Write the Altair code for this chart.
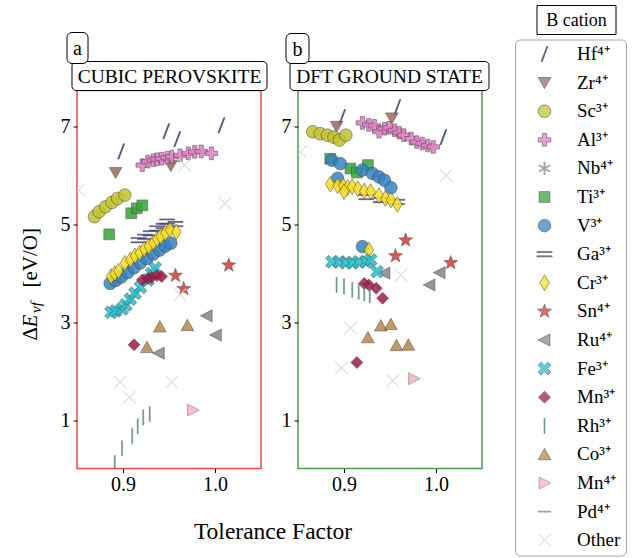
import altair as alt
import pandas as pd

# B-cation categories, in legend / drawing order
CATIONS = ["Hf⁴⁺", "Zr⁴⁺", "Sc³⁺", "Al³⁺", "Nb⁴⁺", "Ti³⁺", "V³⁺", "Ga³⁺", "Cr³⁺",
           "Sn⁴⁺", "Ru⁴⁺", "Fe³⁺", "Mn³⁺", "Rh³⁺", "Co³⁺", "Mn⁴⁺", "Pd⁴⁺", "Other"]

# ---- cubic perovskite: (tolerance factor, vacancy formation energy) ----
CUBIC_HF = [(0.898, 6.49), (0.947, 6.90), (0.959, 6.74), (1.007, 7.02)]
CUBIC_ZR = [(0.892, 6.06), (0.952, 6.20)]
CUBIC_SC = [(0.869, 5.16), (0.874, 5.26), (0.881, 5.36), (0.888, 5.45), (0.894, 5.53), (0.902, 5.60)]
CUBIC_AL = [(0.921, 6.21), (0.927, 6.28), (0.933, 6.31), (0.937, 6.33), (0.942, 6.34), (0.948, 6.36),
            (0.953, 6.38), (0.962, 6.41), (0.971, 6.45), (0.978, 6.48), (0.985, 6.49), (0.996, 6.45)]
CUBIC_NB = []
CUBIC_TI = [(0.885, 4.80), (0.909, 5.23), (0.915, 5.33), (0.921, 5.39)]
CUBIC_V = [(0.886, 3.80), (0.892, 3.86), (0.898, 3.93), (0.905, 4.02), (0.912, 4.12), (0.919, 4.22),
           (0.926, 4.31), (0.933, 4.40), (0.940, 4.48), (0.946, 4.56), (0.952, 4.62)]
CUBIC_GA = [(0.917, 4.68), (0.924, 4.75), (0.930, 4.82), (0.937, 4.92), (0.944, 4.97), (0.948, 5.06), (0.957, 5.01)]
CUBIC_CR = [(0.887, 3.94), (0.891, 4.00), (0.895, 4.05), (0.902, 4.21), (0.908, 4.28), (0.913, 4.36),
            (0.918, 4.42), (0.923, 4.50), (0.928, 4.55), (0.933, 4.63), (0.937, 4.70), (0.941, 4.76),
            (0.946, 4.83), (0.951, 4.89), (0.958, 4.85)]
CUBIC_SN = [(0.957, 3.96), (0.966, 3.69), (1.015, 4.17)]
CUBIC_RU = [(0.991, 3.14), (1.001, 2.75), (0.939, 2.38)]
CUBIC_FE = [(0.887, 3.21), (0.892, 3.24), (0.899, 3.28), (0.903, 3.36), (0.908, 3.48), (0.913, 3.60),
            (0.919, 3.72), (0.927, 3.87), (0.931, 4.00), (0.935, 4.11)]
CUBIC_MN3 = [(0.921, 3.87), (0.927, 3.90), (0.931, 3.92), (0.937, 3.96), (0.942, 3.94), (0.912, 2.55)]
CUBIC_RH = [(0.891, 0.14), (0.899, 0.44), (0.910, 0.69), (0.916, 0.89), (0.922, 1.07), (0.929, 1.14)]
CUBIC_CO = [(0.940, 2.92), (0.970, 2.95), (0.926, 2.50)]
CUBIC_MN4 = [(0.976, 1.22)]
CUBIC_PD = []
CUBIC_OTHER = [(0.897, 1.79), (0.907, 1.48), (0.953, 1.79), (0.962, 3.57), (0.852, 5.70),
               (0.967, 6.21), (1.011, 5.43)]

# ---- DFT ground state ----
GROUND_HF = [(0.898, 7.19), (0.958, 7.39), (1.008, 6.78)]
GROUND_ZR = [(0.892, 7.00), (0.952, 7.17)]
GROUND_SC = [(0.866, 6.89), (0.874, 6.85), (0.882, 6.82), (0.889, 6.78), (0.895, 6.72), (0.902, 6.82)]
GROUND_AL = [(0.920, 7.07), (0.927, 7.03), (0.933, 7.01), (0.938, 6.89), (0.944, 6.95), (0.949, 6.97),
             (0.955, 6.92), (0.960, 6.87), (0.965, 6.82), (0.973, 6.75), (0.979, 6.68), (0.985, 6.65),
             (0.991, 6.61), (0.997, 6.58)]
GROUND_NB = []
GROUND_TI = [(0.885, 6.34), (0.907, 6.14), (0.914, 6.06), (0.926, 6.21)]
GROUND_V = [(0.887, 6.31), (0.896, 6.24), (0.893, 5.94), (0.920, 6.11), (0.931, 6.04), (0.938, 5.97),
            (0.944, 5.90), (0.951, 5.75), (0.920, 4.55)]
GROUND_GA = [(0.924, 5.56), (0.940, 5.50), (0.958, 5.46)]
GROUND_CR = [(0.885, 5.82), (0.893, 5.79), (0.899, 5.79), (0.904, 5.75), (0.909, 5.77), (0.915, 5.73),
             (0.922, 5.68), (0.929, 5.67), (0.938, 5.59), (0.945, 5.53), (0.951, 5.50), (0.958, 5.41),
             (0.900, 5.67), (0.927, 4.48)]
GROUND_SN = [(0.967, 4.68), (0.956, 4.36), (1.016, 4.22)]
GROUND_RU = [(0.944, 4.01), (1.004, 4.02), (0.993, 3.77)]
GROUND_FE = [(0.887, 4.24), (0.895, 4.24), (0.902, 4.22), (0.909, 4.22), (0.916, 4.24), (0.924, 4.24),
             (0.929, 4.28), (0.936, 4.04)]
GROUND_MN3 = [(0.922, 3.80), (0.927, 3.77), (0.935, 3.70), (0.942, 3.50), (0.914, 2.19)]
GROUND_RH = [(0.892, 3.77), (0.900, 3.74), (0.909, 3.67), (0.916, 3.63), (0.922, 3.60), (0.928, 3.56)]
GROUND_CO = [(0.940, 2.94), (0.951, 2.97), (0.926, 2.70), (0.957, 2.54), (0.970, 2.55)]
GROUND_MN4 = [(0.976, 1.86)]
GROUND_PD = []
GROUND_OTHER = [(0.962, 3.97), (0.907, 2.89), (0.897, 2.08), (0.953, 1.82), (0.853, 6.48), (1.011, 6.00)]

CUBIC_SERIES = [CUBIC_HF, CUBIC_ZR, CUBIC_SC, CUBIC_AL, CUBIC_NB, CUBIC_TI, CUBIC_V, CUBIC_GA, CUBIC_CR,
                CUBIC_SN, CUBIC_RU, CUBIC_FE, CUBIC_MN3, CUBIC_RH, CUBIC_CO, CUBIC_MN4, CUBIC_PD, CUBIC_OTHER]
GROUND_SERIES = [GROUND_HF, GROUND_ZR, GROUND_SC, GROUND_AL, GROUND_NB, GROUND_TI, GROUND_V, GROUND_GA,
                 GROUND_CR, GROUND_SN, GROUND_RU, GROUND_FE, GROUND_MN3, GROUND_RH, GROUND_CO, GROUND_MN4,
                 GROUND_PD, GROUND_OTHER]

PANEL_TAGS = ["a", "b"]
PANEL_TITLES = ["CUBIC PEROVSKITE", "DFT GROUND STATE"]
X_TICKS = [0.9, 1.0]
Y_TICKS = [1, 3, 5, 7]

# ---- marker styling ----
FILLS = ["#2d2d66", "#9c675e", "#c3c22c", "#e57dc6", "#8c8c8c", "#37a537", "#3584c2", "#3b3e72",
         "#f7e018", "#dc3535", "#868686", "#22c0cd", "#a21946", "#52806c", "#b98746", "#ffb0ba",
         "#5b9c5b", "#d9d9d9"]
EDGE = "#404040"
EDGES = ["#2d2d66", EDGE, EDGE, EDGE, "#8c8c8c", EDGE, EDGE, "#3b3e72", EDGE, EDGE, EDGE, EDGE, EDGE,
         "#52806c", EDGE, "#707070", "#5b9c5b", "#d9d9d9"]

SLASH = "M-0.55,1.2L0.35,-1.2L0.55,-1.2L-0.35,1.2Z"
TRI_DOWN = "M-1,-0.8L1,-0.8L0,0.95Z"
PLUS = "M-0.33,-1H0.33V-0.33H1V0.33H0.33V1H-0.33V0.33H-1V-0.33H-0.33Z"
ASTERISK = ("M-0.1,-1H0.1V1H-0.1Z M0.816,0.587L0.916,0.413L-0.816,-0.587L-0.916,-0.413Z "
            "M-0.916,0.413L-0.816,0.587L0.916,-0.413L0.816,-0.587Z")
SQUARE = "M-0.85,-0.85H0.85V0.85H-0.85Z"
EQUALS = "M-1.2,-0.42H1.2V-0.26H-1.2Z M-1.2,0.26H1.2V0.42H-1.2Z"
THIN_DIAMOND = "M0,-1.25L0.75,0L0,1.25L-0.75,0Z"
STAR = ("M0,-1.15L0.276,-0.38L1.094,-0.355L0.447,0.145L0.676,0.93L0,0.47L-0.676,0.93"
        "L-0.447,0.145L-1.094,-0.355L-0.276,-0.38Z")
TRI_LEFT = "M-1,0L0.85,-0.95L0.85,0.95Z"
BIG_X = ("M0.545,-1.011L1.011,-0.545L0.467,0L1.011,0.545L0.545,1.011L0,0.467L-0.545,1.011"
         "L-1.011,0.545L-0.467,0L-1.011,-0.545L-0.545,-1.011L0,-0.467Z")
DIAMOND = "M0,-0.95L0.95,0L0,0.95L-0.95,0Z"
VBAR = "M-0.08,-1.2H0.08V1.2H-0.08Z"
TRI_UP = "M0,-0.95L1,0.85L-1,0.85Z"
TRI_RIGHT = "M1,0L-0.85,-0.95L-0.85,0.95Z"
HBAR = "M-1,-0.08H1V0.08H-1Z"
THIN_X = "M-1,-0.93L-0.93,-1L1,0.93L0.93,1Z M0.93,-1L1,-0.93L-0.93,1L-1,0.93Z"
SHAPES = [SLASH, TRI_DOWN, "circle", PLUS, ASTERISK, SQUARE, "circle", EQUALS, THIN_DIAMOND, STAR,
          TRI_LEFT, BIG_X, DIAMOND, VBAR, TRI_UP, TRI_RIGHT, HBAR, THIN_X]

SERIF = "Liberation Serif"
W, H = 184, 378


def frame(series):
    rows = []
    for cation, pts in zip(CATIONS, series):
        for t, e in pts:
            rows.append({"t": t, "e": e, "cation": cation})
    return pd.DataFrame(rows)


legend = alt.Legend(
    title=None, orient="none", legendX=438, legendY=-51,
    padding=5, strokeColor="#a8a8a8", cornerRadius=5, fillColor="white",
    symbolSize=160, symbolStrokeWidth=0.6, symbolOffset=15, labelOffset=23,
    labelFont=SERIF, labelFontSize=19, labelColor="black", rowPadding=8.6,
)


def points(series):
    return alt.Chart(frame(series)).mark_point(
        filled=True, size=160, opacity=0.85, strokeWidth=0.6, clip=True
    ).encode(
        x=alt.X("t:Q", scale=alt.Scale(domain=[0.85, 1.05], nice=False, zero=False),
                axis=alt.Axis(values=X_TICKS, format=".1f", title=None)),
        y=alt.Y("e:Q", scale=alt.Scale(domain=[0.03, 7.73], nice=False, zero=False),
                axis=alt.Axis(values=Y_TICKS, format="d", title=None)),
        fill=alt.Fill("cation:N", scale=alt.Scale(domain=CATIONS, range=FILLS), legend=legend),
        stroke=alt.Stroke("cation:N", scale=alt.Scale(domain=CATIONS, range=EDGES), legend=legend),
        shape=alt.Shape("cation:N", scale=alt.Scale(domain=CATIONS, range=SHAPES), legend=legend),
    )


def box(label, x0, x1, y0, y1, size, radius=4):
    src = pd.DataFrame({"label": [label]})
    rect = alt.Chart(src).mark_rect(
        fill="white", stroke="black", strokeWidth=1, cornerRadius=radius
    ).encode(x=alt.value(x0), x2=alt.value(x1), y=alt.value(y0), y2=alt.value(y1))
    text = alt.Chart(src).mark_text(
        font=SERIF, fontSize=size, color="black", align="center", baseline="middle"
    ).encode(x=alt.value((x0 + x1) / 2), y=alt.value((y0 + y1) / 2 + 1), text="label:N")
    return [rect, text]


def free_text(label, x, y, size, angle=0, style="normal", align="center"):
    src = pd.DataFrame({"label": [label]})
    return alt.Chart(src).mark_text(
        font=SERIF, fontSize=size, color="black", align=align, baseline="alphabetic",
        angle=angle, fontStyle=style
    ).encode(x=alt.value(x), y=alt.value(y), text="label:N")


# y-axis label built from pieces so the subscript can sit lower
y_label = [
    free_text("Δ", -40.5, 250, 21, angle=270, align="left"),
    free_text("E", -40.5, 237, 21, angle=270, style="italic", align="left"),
    free_text("vf", -36.5, 222.5, 15, angle=270, style="italic", align="left"),
    free_text("[eV/O]", -40.5, 197, 21, angle=270, align="left"),
]
x_label = free_text("Tolerance Factor", 196, 448, 23.5)

panel_a = alt.layer(
    points(CUBIC_SERIES),
    *box(PANEL_TITLES[0], -5, 190, -29, 0, 19.5),
    *box(PANEL_TAGS[0], -10, 11, -58, -27, 20, radius=5),
    *y_label,
    x_label,
).properties(width=W, height=H, view=alt.ViewBackground(stroke="#f04848", strokeWidth=1.5))

panel_b = alt.layer(
    points(GROUND_SERIES),
    *box(PANEL_TITLES[1], -8, 191, -29, 0, 19.5),
    *box(PANEL_TAGS[1], -12, 11, -57, -27, 20, radius=5),
    *box("B cation", 239, 318, -85, -56, 18, radius=0),
).properties(width=W, height=H, view=alt.ViewBackground(stroke="#4b9c4b", strokeWidth=1.5))

chart = alt.hconcat(panel_a, panel_b, spacing=37, bounds="flush").resolve_scale(
    fill="shared", stroke="shared", shape="shared"
).properties(
    padding={"left": 18, "top": 3.5, "right": 2, "bottom": 1},
    background="white",
).configure_axis(
    labelFont=SERIF, labelFontSize=20, labelColor="black", tickColor="black", tickSize=4,
    domain=False, grid=False, labelPadding=2,
).configure_axisY(labelPadding=3)

chart.save("out.html", embed_options={"renderer": "svg", "actions": False})
